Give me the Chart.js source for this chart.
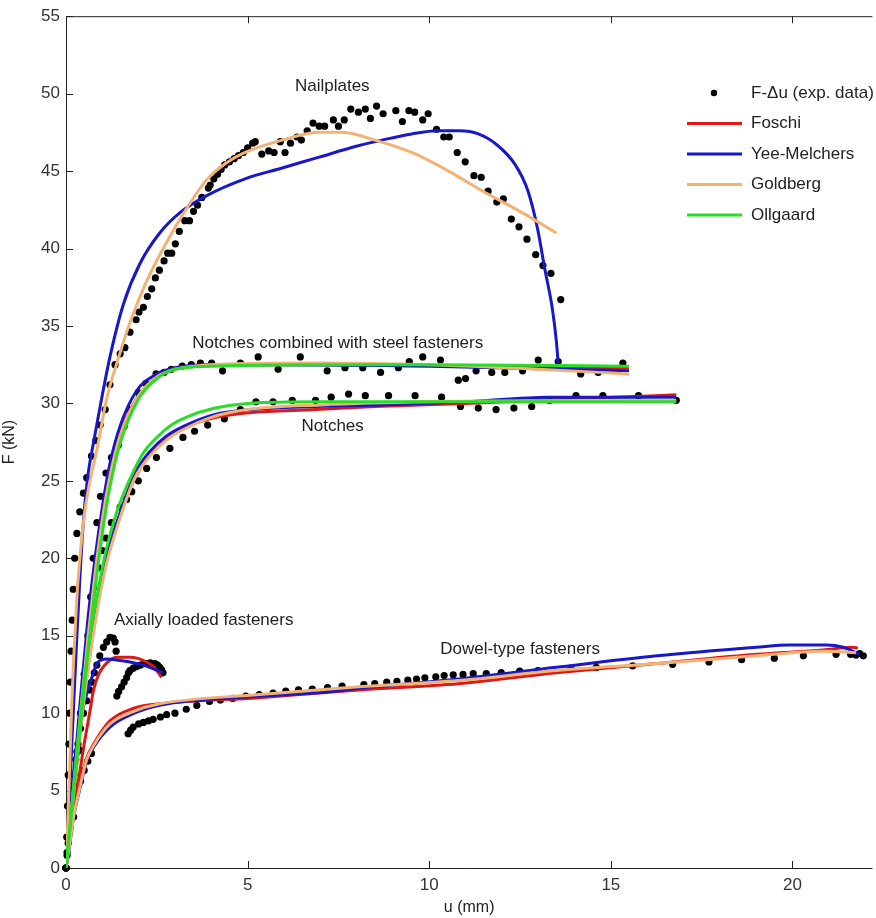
<!DOCTYPE html>
<html>
<head>
<meta charset="utf-8">
<title>F-u curves</title>
<script src="https://cdn.jsdelivr.net/npm/chart.js@4.4.0/dist/chart.umd.min.js"></script>
<style>
  html, body { margin: 0; padding: 0; background: #fff; }
  #wrap { width: 876px; height: 918px; }
</style>
</head>
<body>
<div id="wrap"><canvas id="chart" width="876" height="918"></canvas></div>
<script>
// F-u curves of timber joints: experimental data + four fitted models

const xTicks = [0, 5, 10, 15, 20];
const yTicks = [0, 5, 10, 15, 20, 25, 30, 35, 40, 45, 50, 55];

// --- Nailplates ---
const nailExp = [[0,0],[0.02,2],[0.04,4],[0.06,6],[0.08,8],[0.1,10],[0.12,12],[0.14,14],[0.17,16],[0.2,18],[0.24,20],[0.3,21.6],[0.38,23],[0.48,24.2],[0.57,25.2],[0.7,26.6],[0.82,27.6],[0.94,28.6],[1.08,29.6],[1.21,31.2],[1.35,32.5],[1.49,33.2],[1.62,33.6],[1.76,34.6],[1.93,35.4],[2.01,35.9],[2.13,36.2],[2.24,36.9],[2.36,37.4],[2.46,38.1],[2.57,38.6],[2.7,39.2],[2.8,39.7],[2.91,39.7],[3.01,40.3],[3.12,41.1],[3.27,41.8],[3.4,41.8],[3.51,42.4],[3.62,42.8],[3.74,43.3],[3.92,43.9],[3.97,44.1],[4.07,44.5],[4.17,44.8],[4.27,45.1],[4.37,45.4],[4.5,45.6],[4.63,45.8],[4.75,46.0],[4.88,46.2],[5.0,46.5],[5.14,46.8],[5.21,46.9],[5.39,46.1],[5.58,46.3],[5.73,46.2],[5.9,46.9],[6.03,46.2],[6.18,46.8],[6.36,47.2],[6.48,47.0],[6.64,47.6],[6.8,48.1],[6.97,47.9],[7.12,47.9],[7.36,48.3],[7.5,47.9],[7.66,48.3],[7.84,49.0],[8.05,48.8],[8.24,49.0],[8.38,48.4],[8.55,49.2],[8.73,48.7],[9.08,48.9],[9.26,48.2],[9.44,48.9],[9.6,48.8],[9.82,48.3],[9.97,48.7],[10.2,47.7],[10.4,47.2],[10.55,47.2],[10.77,46.2],[10.99,45.6],[11.23,44.7],[11.43,44.6],[11.62,43.7],[11.86,43.0],[12.04,43.2],[12.26,41.9],[12.47,41.4],[12.69,40.6],[12.93,39.6],[13.13,38.9],[13.35,38.4],[13.62,36.7]];
const nailYee = [[0,0],[0.1,5],[0.2,10],[0.3,15],[0.4,19.5],[0.5,23],[0.6,25.3],[0.76,27.5],[0.94,29.8],[1.21,33],[1.58,36.4],[2.03,39],[2.58,41],[3.13,42.3],[3.86,43.4],[4.93,44.5],[5.95,45.2],[6.97,45.9],[7.99,46.6],[8.7,47.0],[9.52,47.4],[10.23,47.6],[10.84,47.6],[11.35,47.4],[11.86,46.7],[12.37,45.4],[12.72,43.7],[12.98,41.3],[13.18,38.7],[13.39,36.1],[13.5,34],[13.55,32.6]];
const nailGold = [[0,0],[0.05,3],[0.1,6.5],[0.15,10],[0.2,13],[0.3,17.5],[0.4,20.5],[0.5,22.7],[0.62,24.5],[0.85,27],[1.12,30.3],[1.44,32.9],[1.76,35.2],[2.22,37.9],[2.77,40.4],[3.27,42.4],[3.86,44.4],[4.4,45.5],[4.93,46.2],[5.95,47.0],[6.97,47.5],[7.58,47.5],[8.5,47.0],[9.52,46.2],[10.53,45.0],[11.55,43.6],[12.57,42.3],[13.5,41.0]];

// --- Notches combined with steel fasteners ---
const combExp = [[0,0],[0.1,2.5],[0.2,5],[0.3,7.5],[0.4,10],[0.5,12.5],[0.6,15],[0.68,17.5],[0.75,20],[0.85,22.3],[0.95,24],[1.1,25.5],[1.25,26.5],[1.44,27.3],[1.6,28.5],[1.75,29.6],[1.99,30.7],[2.2,31.3],[2.48,31.9],[2.7,32.0],[2.9,32.2],[3.2,32.4],[3.45,32.5],[3.7,32.6],[4.01,32.6],[4.31,32.1],[4.8,32.6],[5.29,33.0],[5.84,32.2],[6.45,33.0],[7.19,32.1],[7.68,32.3],[8.17,32.3],[8.66,32.0],[9.15,32.3],[9.45,32.7],[9.82,33.0],[10.31,32.8],[10.8,31.5],[11.0,31.6],[11.29,32.1],[11.72,32.0],[12.08,32.0],[12.57,32.1],[13.0,32.8],[13.55,32.7],[14.17,31.9],[14.65,32.0],[15.33,32.6]];
const combFoschi = [[0,0],[0.2,5],[0.4,10.2],[0.6,15],[0.8,19.3],[1.0,22.8],[1.2,25.5],[1.5,28.2],[2.0,30.5],[2.5,31.7],[3.0,32.2],[4,32.5],[7,32.5],[15.5,32.3]];
const combYee = [[0,0],[0.2,5.5],[0.4,11],[0.6,16],[0.8,20],[1.0,23.3],[1.2,26],[1.5,28.6],[1.94,30.8],[2.5,31.9],[3.0,32.3],[4,32.5],[6,32.5],[10,32.4],[15.5,32.1]];
const combGold = [[0,0],[0.2,5],[0.4,10],[0.6,14.8],[0.8,19],[1.0,22.5],[1.2,25.2],[1.5,28],[2.0,30.5],[2.5,31.7],[3.0,32.2],[4,32.5],[7,32.6],[10,32.5],[13,32.2],[15.5,31.9]];
const combOll = [[0,0],[0.2,4.6],[0.4,9.2],[0.6,13.8],[0.8,18],[1.0,21.6],[1.2,24.5],[1.5,27.5],[2.0,30.3],[2.5,31.6],[3.0,32.2],[4,32.4],[7,32.5],[10,32.5],[15.5,32.4]];

// --- Notches ---
const notchExp = [[0,0],[0.21,3.3],[0.39,7.6],[0.57,11.9],[0.67,15.1],[0.76,18.1],[0.89,19.4],[1.0,20.5],[1.1,21.3],[1.25,22.3],[1.49,23.3],[1.67,23.8],[1.81,24.3],[1.99,25.0],[2.22,25.8],[2.49,26.5],[2.86,27.1],[3.22,27.8],[3.54,28.2],[3.9,28.6],[4.36,29.0],[4.8,29.6],[5.23,30.1],[5.7,30.1],[6.23,30.2],[6.87,30.2],[7.3,30.4],[7.78,30.6],[8.24,30.5],[8.88,30.5],[9.61,30.5],[10.34,30.4],[10.86,29.8],[11.35,29.7],[11.84,29.6],[12.33,29.7],[12.82,29.8],[13.31,30.2],[14.04,30.5],[14.78,30.5],[15.76,30.5],[16.8,30.2]];
const notchFoschi = [[0,0],[0.2,4.6],[0.4,9.0],[0.62,13.2],[0.85,16.7],[1.1,19.7],[1.5,22.8],[1.9,25.2],[2.31,26.7],[2.77,27.7],[3.22,28.4],[4.13,29.1],[5.05,29.4],[6.87,29.6],[8.5,29.8],[11,30.0],[15.1,30.4],[16.8,30.55]];
const notchYee = [[0,0],[0.2,4.8],[0.4,9.4],[0.62,13.5],[0.85,17],[1.1,20],[1.5,23],[1.9,25.5],[2.31,26.9],[2.77,27.9],[3.22,28.5],[4.13,29.3],[5.05,29.6],[6.87,29.8],[8.7,29.9],[11,30.1],[13.3,30.4],[16.8,30.4]];
const notchGold = [[0,0],[0.2,4.5],[0.4,9],[0.62,13],[0.85,16.5],[1.1,19.5],[1.5,22.7],[1.9,25.2],[2.31,26.6],[2.8,27.7],[3.22,28.3],[4,29.1],[5,29.6],[7,29.9],[10,30.1],[16.8,30.2]];
const notchOll = [[0,0],[0.1,2.5],[0.2,5],[0.3,7.5],[0.45,11],[0.62,14.3],[0.85,17.5],[1.1,20.5],[1.4,23],[1.7,24.8],[2.1,26.7],[2.5,27.8],[2.9,28.6],[3.3,29.1],[4.1,29.7],[5,30],[7,30.1],[16.8,30.1]];

// --- Axially loaded fasteners ---
const axialExp = [[0,0],[0.03,1],[0.06,2],[0.1,3],[0.14,4],[0.18,5],[0.22,6],[0.27,7],[0.33,8],[0.4,9],[0.48,10],[0.57,10.8],[0.65,11.5],[0.71,12],[0.78,12.6],[0.85,13.1],[0.93,13.7],[1.03,14.25],[1.12,14.6],[1.21,14.9],[1.3,14.85],[1.35,14.6],[1.38,14.0],[1.4,11.1],[1.45,11.4],[1.53,11.7],[1.6,12.0],[1.67,12.3],[1.72,12.6],[1.76,12.75],[1.85,12.9],[1.94,13.0],[2.05,13.1],[2.15,13.2],[2.22,13.2],[2.32,13.25],[2.45,13.2],[2.52,13.1],[2.58,12.96],[2.63,12.8],[2.67,12.6]];
const axialFoschi = [[0,0],[0.15,2.6],[0.3,5],[0.5,8],[0.65,10],[0.76,11.5],[0.9,12.5],[1.03,13.0],[1.2,13.4],[1.4,13.6],[1.76,13.6],[2.22,13.3],[2.45,12.9],[2.63,12.3]];
const axialYee = [[0,0],[0.05,2],[0.2,6],[0.4,9.5],[0.6,11.5],[0.71,12.3],[0.85,13.2],[1.0,13.45],[1.12,13.5],[1.49,13.4],[2.13,13.1],[2.67,12.6]];

// --- Dowel-type fasteners ---
const dowelExp = [[0,0],[0.03,0.8],[0.06,1.6],[0.1,2.4],[0.15,3.3],[0.2,4.1],[0.25,4.8],[0.3,5.3],[0.4,5.6],[0.5,6.3],[0.6,6.9],[0.7,7.4],[1.71,8.67],[1.78,8.9],[1.85,9.1],[2.0,9.3],[2.13,9.4],[2.27,9.5],[2.4,9.6],[2.6,9.75],[2.77,9.9],[3.0,10.0],[3.31,10.25],[3.6,10.5],[3.95,10.75],[4.25,10.85],[4.59,10.95],[4.95,11.1],[5.32,11.2],[5.7,11.3],[6.05,11.42],[6.4,11.5],[6.78,11.55],[7.2,11.65],[7.6,11.75],[8.2,11.85],[8.5,11.9],[8.83,12.0],[9.11,12.05],[9.41,12.13],[9.65,12.2],[9.88,12.28],[10.18,12.35],[10.41,12.43],[10.66,12.47],[10.93,12.5],[11.21,12.55],[11.57,12.55],[11.98,12.62],[12.49,12.72],[12.99,12.75],[13.9,12.9],[14.6,12.95],[15.6,13.05],[16.7,13.15],[17.7,13.3],[18.6,13.45],[19.5,13.55],[20.3,13.7],[21.2,13.8],[21.6,13.8],[21.75,13.75],[21.85,13.85],[21.95,13.7]];
const dowelFoschi = [[0,0],[0.1,1.6],[0.21,3.4],[0.39,5.5],[0.57,7.1],[0.76,8.0],[1.21,9.5],[1.85,10.3],[2.58,10.6],[5.32,11.0],[8.06,11.5],[10.8,11.9],[13.5,12.6],[16.27,13.2],[19.0,13.8],[20.84,14.07],[21.66,14.25],[21.8,14.2]];
const dowelYee = [[0,0],[0.1,1.5],[0.21,3.3],[0.39,5.2],[0.57,6.9],[0.76,7.8],[1.21,9.1],[1.85,9.96],[2.58,10.5],[3.49,10.8],[5.32,11.1],[7.15,11.35],[8.06,11.6],[10.8,12.2],[13.5,12.96],[16.27,13.7],[19.0,14.25],[19.9,14.4],[20.93,14.4],[21.4,14.25],[21.84,13.8]];
const dowelGold = [[0,0],[0.1,1.5],[0.21,3.3],[0.39,5.3],[0.57,7.0],[0.76,7.9],[1.21,9.3],[1.85,10.1],[2.58,10.6],[5.32,11.2],[8.06,11.7],[10.8,12.1],[13.5,12.75],[16.27,13.2],[19.0,13.7],[20.84,14.0],[21.75,13.9]];

const annotations = [
  ['Nailplates', 7.33, 50.5],
  ['Notches combined with steel fasteners', 7.48, 33.9],
  ['Notches', 7.34, 28.5],
  ['Axially loaded fasteners', 3.79, 16.0],
  ['Dowel-type fasteners', 12.5, 14.1]
];

const RED = '#dd1818', BLUE = '#1818c8', ORANGE = '#f2b274', GREEN = '#28dd28';
const FONT = "'Liberation Sans', Arial, sans-serif";

function pts(arr) { return arr.map(p => ({ x: p[0], y: p[1] })); }

function expSet(arr) {
  return {
    data: pts(arr), showLine: false, pointRadius: 3.6, pointHoverRadius: 3.6,
    pointStyle: 'circle', backgroundColor: '#000', borderColor: '#000', borderWidth: 0,
    order: 10, clip: false
  };
}

function fitSet(arr, color, order) {
  return {
    data: pts(arr), showLine: true, borderColor: color, borderWidth: 3,
    pointRadius: 0, fill: false, cubicInterpolationMode: 'monotone', order: order
  };
}

const datasets = [
  expSet(nailExp), expSet(combExp), expSet(notchExp), expSet(axialExp), expSet(dowelExp),
  fitSet(nailYee, BLUE, 3), fitSet(nailGold, ORANGE, 2),
  fitSet(combFoschi, RED, 4), fitSet(combYee, BLUE, 3), fitSet(combGold, ORANGE, 2), fitSet(combOll, GREEN, 1),
  fitSet(notchFoschi, RED, 4), fitSet(notchYee, BLUE, 3), fitSet(notchGold, ORANGE, 2), fitSet(notchOll, GREEN, 1),
  fitSet(axialFoschi, RED, 4), fitSet(axialYee, BLUE, 3),
  fitSet(dowelFoschi, RED, 4), fitSet(dowelYee, BLUE, 3), fitSet(dowelGold, ORANGE, 2)
];

// axes frame, inward ticks, legend and labels
const decorations = {
  id: 'decorations',
  beforeDatasetsDraw(chart) {
    const ctx = chart.ctx, a = chart.chartArea, xs = chart.scales.x, ys = chart.scales.y;
    ctx.save();
    ctx.strokeStyle = '#222';
    ctx.lineWidth = 1;
    ctx.beginPath();
    ctx.moveTo(a.left + 0.5, a.top + 0.5); ctx.lineTo(a.right, a.top + 0.5);
    ctx.moveTo(a.left + 0.5, a.top); ctx.lineTo(a.left + 0.5, a.bottom + 0.5);
    ctx.moveTo(a.left, a.bottom + 0.5); ctx.lineTo(a.right, a.bottom + 0.5);
    xTicks.forEach(v => {
      const px = Math.round(xs.getPixelForValue(v)) + 0.5;
      ctx.moveTo(px, a.bottom); ctx.lineTo(px, a.bottom - 7);
      ctx.moveTo(px, a.top); ctx.lineTo(px, a.top + 7);
    });
    yTicks.forEach(v => {
      const py = Math.round(ys.getPixelForValue(v)) + 0.5;
      ctx.moveTo(a.left, py); ctx.lineTo(a.left + 7, py);
    });
    ctx.stroke();
    ctx.restore();
  },
  afterDraw(chart) {
    const ctx = chart.ctx, xs = chart.scales.x, ys = chart.scales.y;
    ctx.save();
    ctx.font = '17px ' + FONT;
    ctx.fillStyle = '#222';
    ctx.textAlign = 'center';
    ctx.textBaseline = 'middle';
    annotations.forEach(t => ctx.fillText(t[0], xs.getPixelForValue(t[1]), ys.getPixelForValue(t[2])));

    // legend
    const items = [['F-\u0394u (exp. data)', null], ['Foschi', RED], ['Yee-Melchers', BLUE], ['Goldberg', ORANGE], ['Ollgaard', GREEN]];
    const lx = 687, tx = 751, y0 = 93, dy = 30.5;
    ctx.textAlign = 'left';
    items.forEach((it, i) => {
      const y = y0 + i * dy;
      if (it[1]) {
        ctx.strokeStyle = it[1];
        ctx.lineWidth = 3;
        ctx.beginPath(); ctx.moveTo(lx, y); ctx.lineTo(lx + 55, y); ctx.stroke();
      } else {
        ctx.fillStyle = '#000';
        ctx.beginPath(); ctx.arc(lx + 27, y, 3.2, 0, Math.PI * 2); ctx.fill();
      }
      ctx.fillStyle = '#222';
      ctx.fillText(it[0], tx, y);
    });
    ctx.restore();
  }
};

new Chart(document.getElementById('chart'), {
  type: 'scatter',
  data: { datasets: datasets },
  options: {
    responsive: false,
    animation: false,
    layout: { padding: { top: 14, right: 0, left: 0, bottom: 0 } },
    plugins: { legend: { display: false }, tooltip: { enabled: false } },
    scales: {
      x: {
        type: 'linear', min: 0, max: 22.2,
        afterBuildTicks: s => { s.ticks = xTicks.map(v => ({ value: v })); },
        afterFit: s => { s.height = 50; },
        grid: { display: false, drawTicks: false },
        border: { display: false },
        ticks: { padding: 7, color: '#333', font: { family: FONT, size: 17 } },
        title: { display: true, text: 'u (mm)', color: '#222', font: { family: FONT, size: 16 }, padding: { top: 0, bottom: 1 } }
      },
      y: {
        type: 'linear', min: 0, max: 55,
        afterBuildTicks: s => { s.ticks = yTicks.map(v => ({ value: v })); },
        afterFit: s => { s.width = 66; },
        grid: { display: false, drawTicks: false },
        border: { display: false },
        ticks: { padding: 6, color: '#333', font: { family: FONT, size: 17 } },
        title: { display: true, text: 'F (kN)', color: '#222', font: { family: FONT, size: 16 }, padding: { top: 0, bottom: 0 } }
      }
    }
  },
  plugins: [decorations]
});
</script>
</body>
</html>
